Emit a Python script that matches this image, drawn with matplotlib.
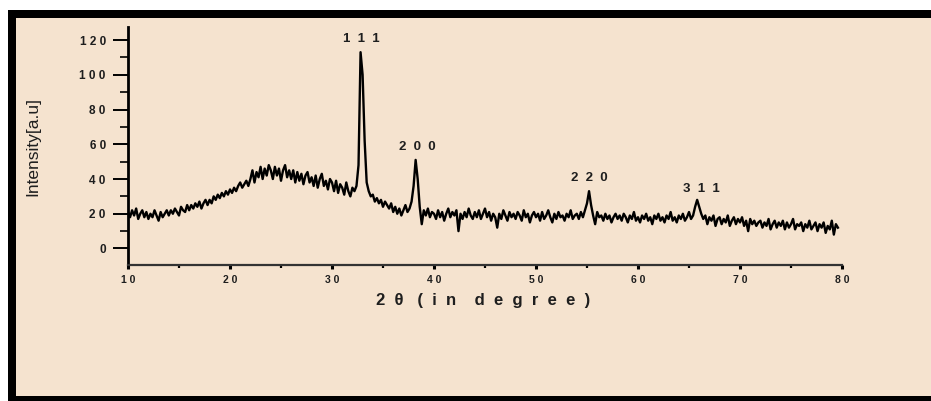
import numpy as np
import matplotlib
matplotlib.use("Agg")
import matplotlib.pyplot as plt
from matplotlib.patches import Rectangle
from matplotlib.ticker import MultipleLocator

# XRD scan, 2-theta from 10 deg in 0.2 deg steps
SCAN_START = 10.0
SCAN_STEP = 0.2
intensity = [
    21, 18, 22, 19, 23, 17, 20, 22, 18, 21,   # 10
    17, 20, 18, 22, 19, 16, 21, 18, 20, 22,   # 12
    19, 22, 20, 23, 21, 19, 24, 22, 21, 25,   # 14
    22, 25, 23, 26, 24, 27, 23, 26, 28, 25,   # 16
    28, 26, 30, 28, 31, 29, 32, 30, 33, 31,   # 18
    34, 32, 35, 33, 36, 38, 35, 37, 39, 36,   # 20
    40, 45, 38, 44, 41, 47, 40, 46, 42, 48,   # 22
    45, 40, 47, 42, 46, 39, 45, 48, 41, 45,   # 24
    40, 45, 38, 44, 39, 43, 37, 42, 44, 38,   # 26
    41, 36, 42, 35, 40, 43, 36, 39, 34, 40,   # 28
    38, 33, 39, 32, 37, 35, 31, 38, 33, 30,   # 30
    35, 33, 36, 48, 113, 100, 62, 38, 33, 30, # 32
    31, 27, 29, 26, 28, 24, 27, 25, 23, 26,   # 34
    21, 24, 20, 23, 19, 22, 25, 21, 23, 27,   # 36
    36, 51, 40, 24, 14, 22, 19, 23, 18, 21,   # 38
    20, 17, 22, 18, 21, 16, 20, 23, 18, 21,   # 40
    19, 22, 10, 20, 17, 21, 18, 23, 19, 17,   # 42
    21, 18, 22, 17, 20, 23, 18, 21, 16, 20,   # 44
    18, 12, 20, 17, 22, 19, 16, 21, 18, 20,   # 46
    17, 21, 19, 16, 22, 18, 20, 15, 19, 21,   # 48
    18, 20, 16, 21, 17, 19, 22, 18, 15, 20,   # 50
    17, 21, 18, 19, 16, 20, 18, 22, 17, 19,   # 52
    20, 17, 21, 18, 22, 26, 33, 25, 19, 14,   # 54
    21, 18, 19, 16, 20, 17, 19, 15, 18, 20,   # 56
    17, 19, 16, 20, 18, 15, 19, 17, 21, 16,   # 58
    18, 15, 19, 17, 20, 16, 18, 14, 19, 17,   # 60
    20, 16, 18, 15, 19, 17, 21, 16, 18, 15,   # 62
    19, 17, 20, 16, 18, 21, 17, 19, 24, 28,   # 64
    24, 20, 17, 19, 14, 18, 16, 19, 13, 17,   # 66
    18, 14, 17, 15, 19, 13, 16, 18, 14, 17,   # 68
    15, 18, 13, 16, 10, 17, 14, 16, 13, 15,   # 70
    16, 12, 15, 13, 17, 11, 14, 16, 12, 15,   # 72
    13, 16, 11, 15, 12, 14, 17, 11, 14, 13,   # 74
    15, 10, 14, 12, 16, 11, 13, 15, 10, 14,   # 76
    12, 15, 9, 13, 11, 16, 8, 14, 12,         # 78
]

peak_labels = ["1  1  1", "2  0  0", "2  2  0", "3  1  1"]
peak_text_xy = [(32.85, 120.5), (38.4, 58.5), (55.2, 40.5), (66.2, 34.0)]

x_ticks = [10, 20, 30, 40, 50, 60, 70, 80]
y_ticks = [0, 20, 40, 60, 80, 100, 120]

BEIGE = "#f5e3cf"
INK = "#1e1e1e"
W, H = 931, 401

two_theta = SCAN_START + SCAN_STEP * np.arange(len(intensity))

fig = plt.figure(figsize=(W / 100, H / 100), dpi=100, facecolor="white")

# black frame with beige panel
fig.patches.append(Rectangle((8 / W, 0), 1, (H - 10) / H, transform=fig.transFigure,
                             facecolor="black", edgecolor="none", zorder=-2))
fig.patches.append(Rectangle((16 / W, 5 / H), 1, (H - 18 - 5) / H, transform=fig.transFigure,
                             facecolor=BEIGE, edgecolor="none", zorder=-1))

left, right = 128 / W, 842 / W
bottom, top = (H - 265) / H, (H - 27) / H
ax = fig.add_axes([left, bottom, right - left, top - bottom])
ax.set_facecolor("none")

ax.plot(two_theta, intensity, color="black", lw=1.7)

ax.set_xlim(10, 80)
ax.set_ylim(-9.5, 127.5)

for s in ("top", "right"):
    ax.spines[s].set_visible(False)
ax.spines["left"].set_linewidth(2.0)
ax.spines["bottom"].set_linewidth(1.6)
ax.spines["bottom"].set_color("#333333")

ax.set_xticks(x_ticks)
ax.set_xticklabels([" ".join(str(t)) for t in x_ticks])
ax.set_yticks(y_ticks)
ax.set_yticklabels([" ".join(str(t)) for t in y_ticks])
ax.xaxis.set_minor_locator(MultipleLocator(5))
ax.yaxis.set_minor_locator(MultipleLocator(10))

ax.tick_params(axis="y", which="major", direction="out", length=11, width=1.4, pad=5)
ax.tick_params(axis="y", which="minor", direction="out", length=6, width=1.2)
ax.tick_params(axis="x", which="major", direction="out", length=3, width=2.2, pad=4)
ax.tick_params(axis="x", which="minor", direction="out", length=2, width=1.6)

for lab in ax.get_yticklabels():
    lab.set_fontfamily(["Liberation Sans", "DejaVu Sans"])
    lab.set_fontweight("bold")
    lab.set_fontsize(8.5)
    lab.set_color(INK)
for lab in ax.get_xticklabels():
    lab.set_fontfamily(["Liberation Sans", "DejaVu Sans"])
    lab.set_fontweight("bold")
    lab.set_fontsize(7.5)
    lab.set_color(INK)

for txt, (px, py) in zip(peak_labels, peak_text_xy):
    ax.text(px, py, txt, ha="center", va="center", fontsize=9.5, fontweight="bold",
            family=["Liberation Sans", "DejaVu Sans"], color=INK)

fig.text(483 / W, 1 - 300 / H, "2  θ   (  i  n    d  e  g  r  e  e  )", ha="center",
         va="center", fontsize=12, fontweight="bold",
         family=["Liberation Sans", "DejaVu Sans"], color=INK)
fig.text(33 / W, 1 - 146 / H, "Intensity[a.u]", rotation=90, ha="center", va="center",
         fontsize=12.5, family=["Liberation Sans Narrow", "Liberation Sans", "DejaVu Sans"],
         color=INK)

fig.savefig("out.png", dpi=100, facecolor=fig.get_facecolor())
